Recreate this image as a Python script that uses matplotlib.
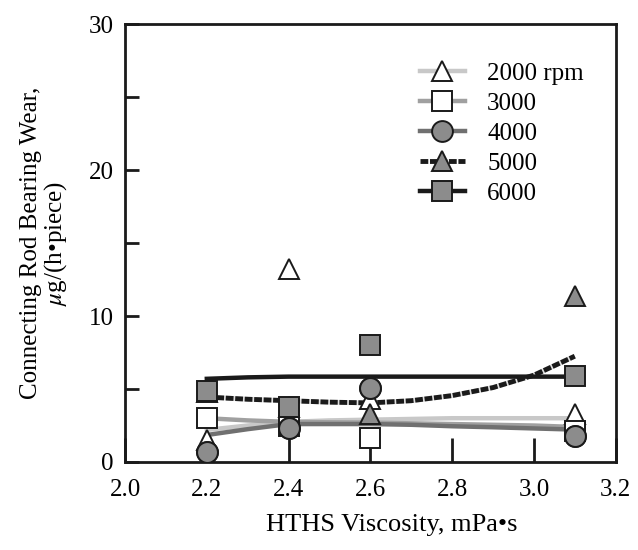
import matplotlib.pyplot as plt
from matplotlib.ticker import MultipleLocator, FormatStrFormatter

plt.rcParams["font.family"] = ["Liberation Serif", "DejaVu Serif"]
plt.rcParams["mathtext.fontset"] = "stix"

# ------------------------------------------------------------
# Data
# ------------------------------------------------------------

HTHS = [2.2, 2.4, 2.6, 3.1]

WEAR_2000 = [1.5, 13.2, 4.3, 3.3]
WEAR_3000 = [3.0, 2.5, 1.65, 2.1]
WEAR_4000 = [0.7, 2.3, 5.1, 1.8]
WEAR_5000 = [4.8, 3.8, 3.3, 11.4]
WEAR_6000 = [4.85, 3.75, 8.0, 5.9]

# trend curves drawn in the figure
TREND_X = [2.2, 2.3, 2.4, 2.5, 2.6, 2.7, 2.8, 2.9, 3.0, 3.1]
TREND_2000 = [2.2, 2.5, 2.75, 2.85, 2.9, 2.95, 3.0, 3.0, 3.0, 3.0]
TREND_3000 = [3.0, 2.85, 2.75, 2.72, 2.7, 2.65, 2.6, 2.55, 2.5, 2.4]
TREND_4000 = [1.85, 2.25, 2.6, 2.6, 2.6, 2.55, 2.45, 2.38, 2.3, 2.22]
TREND_5000 = [4.45, 4.3, 4.2, 4.1, 4.05, 4.2, 4.55, 5.1, 5.95, 7.25]
TREND_6000 = [5.7, 5.8, 5.85, 5.85, 5.85, 5.85, 5.85, 5.85, 5.85, 5.85]

LABELS = ["2000 rpm", "3000", "4000", "5000", "6000"]

FILL = "#8c8c8c"
EDGE = "#1a1a1a"
FS = 18


def main():
    fig = plt.figure(figsize=(6.38, 5.5), dpi=100)
    ax = fig.add_axes([0.196, 0.16, 0.769, 0.796])

    ms = 15
    mew = 1.4
    dash = (1.6, 0.35)

    series = [
        (WEAR_2000, TREND_2000, "^", "white", "#c8c8c8"),
        (WEAR_3000, TREND_3000, "s", "white", "#a0a0a0"),
        (WEAR_4000, TREND_4000, "o", FILL, "#707070"),
        (WEAR_5000, TREND_5000, "^", FILL, None),
        (WEAR_6000, TREND_6000, "s", FILL, EDGE),
    ]

    handles = []
    for i, (wear, trend, marker, face, lc) in enumerate(series):
        if lc is None:
            # striped rope-like dashed curve
            ax.plot(TREND_X, trend, color="#e0e0e0", lw=3.5, zorder=2, solid_capstyle="butt")
            ax.plot(TREND_X, trend, color=EDGE, lw=3.5, dashes=dash, zorder=2.1)
        else:
            ax.plot(TREND_X, trend, color=lc, lw=3.2, zorder=2)
        ax.plot(HTHS, wear, linestyle="none", marker=marker, ms=ms,
                mfc=face, mec=EDGE, mew=mew, zorder=3 + i * 0.1)

        if lc is None:
            h = plt.Line2D([], [], color=EDGE, lw=3.5, dashes=dash,
                           marker=marker, ms=ms, mfc=face, mec=EDGE, mew=mew)
        else:
            h = plt.Line2D([], [], color=lc, lw=3.2,
                           marker=marker, ms=ms, mfc=face, mec=EDGE, mew=mew)
        handles.append(h)

    # 4000 circles drawn on top like in the reference
    ax.plot(HTHS, WEAR_4000, linestyle="none", marker="o", ms=ms,
            mfc=FILL, mec=EDGE, mew=mew, zorder=4)

    ax.set_xlim(2.0, 3.2)
    ax.set_ylim(0, 30)
    ax.xaxis.set_major_locator(MultipleLocator(0.2))
    ax.xaxis.set_major_formatter(FormatStrFormatter("%.1f"))
    ax.yaxis.set_major_locator(MultipleLocator(10))
    ax.yaxis.set_minor_locator(MultipleLocator(5))

    ax.tick_params(axis="both", which="both", direction="in", labelsize=FS,
                   width=2, color=EDGE, pad=8)
    ax.tick_params(axis="x", which="major", length=17, pad=12)
    ax.tick_params(axis="y", which="major", length=10)
    ax.tick_params(axis="y", which="minor", length=10, right=False)

    for spine in ax.spines.values():
        spine.set_linewidth(2)
        spine.set_color(EDGE)

    ax.set_xlabel("HTHS Viscosity, mPa\u2022s", fontsize=19)
    ax.xaxis.set_label_coords(0.544, -0.118)
    ax.set_ylabel("Connecting Rod Bearing Wear,\n$\\mathit{\\mu}$g/(h\u2022piece)",
                  fontsize=FS, labelpad=14, linespacing=1.05)

    ax.legend(handles, LABELS, loc="upper left", bbox_to_anchor=(0.58, 0.935),
              frameon=False, fontsize=FS, handlelength=1.8, handletextpad=0.9,
              labelspacing=0.3, borderaxespad=0)

    fig.savefig("out.png", dpi=100)


if __name__ == "__main__":
    main()
